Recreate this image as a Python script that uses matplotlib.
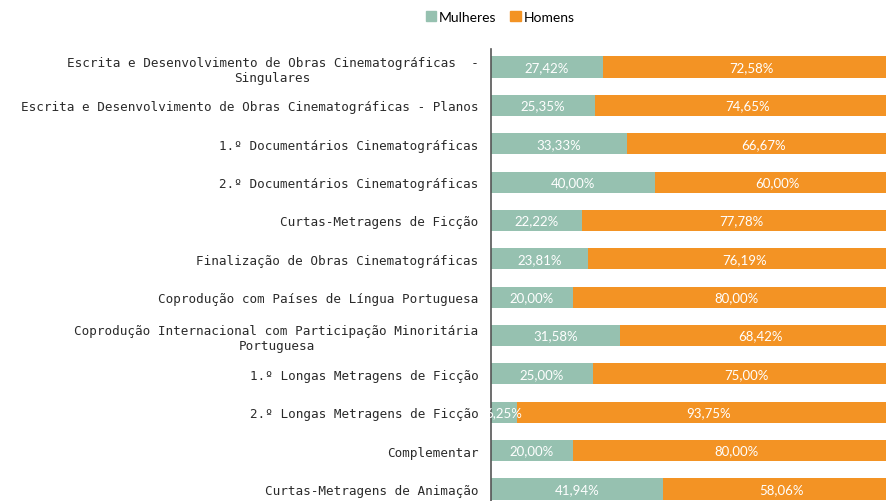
import matplotlib.pyplot as plt
from matplotlib.patches import Patch

categorias = [
    "Escrita e Desenvolvimento de Obras Cinematográficas  -\nSingulares",
    "Escrita e Desenvolvimento de Obras Cinematográficas - Planos",
    "1.º Documentários Cinematográficas",
    "2.º Documentários Cinematográficas",
    "Curtas-Metragens de Ficção",
    "Finalização de Obras Cinematográficas",
    "Coprodução com Países de Língua Portuguesa",
    "Coprodução Internacional com Participação Minoritária\nPortuguesa",
    "1.º Longas Metragens de Ficção",
    "2.º Longas Metragens de Ficção",
    "Complementar",
    "Curtas-Metragens de Animação",
]
mulheres = [27.42, 25.35, 33.33, 40.00, 22.22, 23.81, 20.00, 31.58, 25.00, 6.25, 20.00, 41.94]
homens = [72.58, 74.65, 66.67, 60.00, 77.78, 76.19, 80.00, 68.42, 75.00, 93.75, 80.00, 58.06]

verde = '#96C1B0'
laranja = '#F39324'

fig = plt.figure(figsize=(8.86, 5.02), dpi=100)
# the chart is cropped on the right and bottom, like the reference
ax = fig.add_axes([491 / 886, -6 / 502, 409 / 886, 458 / 502])

y = list(range(len(categorias)))
ax.barh(y, mulheres, height=0.55, color=verde)
ax.barh(y, homens, left=mulheres, height=0.55, color=laranja)

def fmt(v):
    return f"{v:.2f}%".replace('.', ',')

for i in y:
    ax.text(mulheres[i] / 2, i, fmt(mulheres[i]), ha='center', va='center',
            color='white', fontsize=9.5, family='Lato')
    ax.text(mulheres[i] + homens[i] / 2, i, fmt(homens[i]), ha='center', va='center',
            color='white', fontsize=9.5, family='Lato')

ax.set_xlim(0, 100)
ax.set_ylim(len(categorias) - 0.53, -0.47)
ax.set_yticks(y)
# wide monospace face stands in for the letter-spaced labels
ax.set_yticklabels(categorias, fontsize=9.1, family='DejaVu Sans Mono', color='#2a2a2a')
for t in ax.get_yticklabels():
    t.set_multialignment('center')
ax.tick_params(axis='y', length=0, pad=9)
ax.set_xticks([])
for s in ['top', 'right', 'bottom']:
    ax.spines[s].set_visible(False)
ax.spines['left'].set_color('#555555')
ax.spines['left'].set_linewidth(1.2)

fig.legend(handles=[Patch(color=verde, label='Mulheres'), Patch(color=laranja, label='Homens')],
           loc='center', bbox_to_anchor=(500 / 886, 1 - 18 / 502), ncol=2, frameon=False,
           handlelength=0.75, handleheight=0.75, handletextpad=0.2,
           columnspacing=1.0, prop={'family': 'Lato', 'size': 10})

fig.savefig('out.png', dpi=100)
